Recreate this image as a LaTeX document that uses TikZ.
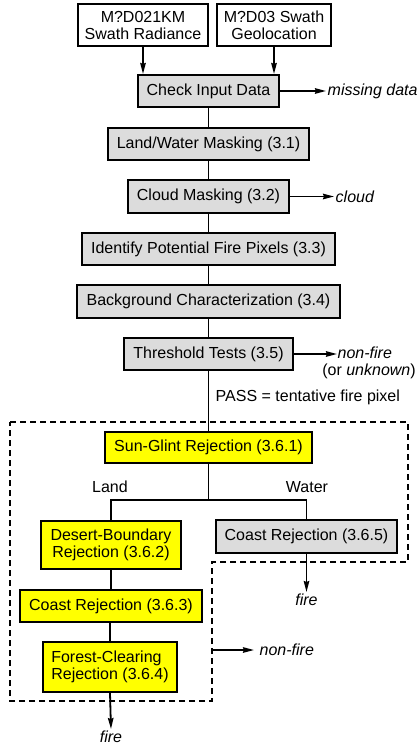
\documentclass[tikz,border=0pt]{standalone}
\usepackage{fontspec}
\setmainfont{Liberation Sans}
\usetikzlibrary{arrows.meta}
\definecolor{boxgray}{HTML}{DCDCDC}
\definecolor{boxyellow}{HTML}{FFFF00}
\begin{document}
\begin{tikzpicture}[x=1pt,y=-1pt,
  font=\fontsize{16}{17}\selectfont,
  box/.style={draw, line width=2pt, inner sep=0pt, align=center},
  wbox/.style={box, fill=white},
  gbox/.style={box, fill=boxgray},
  ybox/.style={box, fill=boxyellow},
  conn/.style={line width=1.8pt},
  arr/.style={conn, -{Stealth[length=11pt,width=5.5pt,inset=1pt]}},
  it/.style={font=\fontsize{16}{17}\selectfont\itshape, inner sep=1.5pt},
  lbl/.style={inner sep=1.5pt},
  dashline/.style={line width=1.4pt, dash pattern=on 6pt off 4pt}]
\useasboundingbox[fill=white] (0,0) rectangle (419,751);

% boxes
\node[wbox, minimum width=130, minimum height=42] (inA) at (143,25) {M?D021KM\\Swath Radiance};
\node[wbox, minimum width=114, minimum height=42] (inB) at (274,25) {M?D03 Swath\\Geolocation};
\node[gbox, minimum width=141, minimum height=32] (ci) at (208.5,91) {Check Input Data};
\node[gbox, minimum width=201, minimum height=32] (lw) at (208.5,144) {Land/Water Masking (3.1)};
\node[gbox, minimum width=161, minimum height=33] (cm) at (208.5,196.5) {Cloud Masking (3.2)};
\node[gbox, minimum width=253, minimum height=32] (ip) at (208.5,249) {Identify Potential Fire Pixels (3.3)};
\node[gbox, minimum width=263, minimum height=33] (bc) at (208.5,301.5) {Background Characterization (3.4)};
\node[gbox, minimum width=169, minimum height=32] (tt) at (208.5,354) {Threshold Tests (3.5)};
\node[ybox, minimum width=207, minimum height=31] (sg) at (208.5,447.5) {Sun-Glint Rejection (3.6.1)};
\node[ybox, minimum width=140, minimum height=48] (db) at (111,545) {Desert-Boundary\\Rejection (3.6.2)};
\node[gbox, minimum width=181, minimum height=33] (c5) at (306.5,536.5) {Coast Rejection (3.6.5)};
\node[ybox, minimum width=182, minimum height=32] (c3) at (111,606) {Coast Rejection (3.6.3)};
\node[ybox, minimum width=134, minimum height=50, align=left] (fc) at (110,667) {Forest-Clearing\\Rejection (3.6.4)};

% labels
\node[it, anchor=west] (md) at (326,91) {missing data};
\node[it, anchor=west] (cl) at (334,196.5) {cloud};
\node[it, anchor=west, inner sep=0.5pt] (nf1) at (337,353) {non-fire};
\node[lbl, inner sep=0pt] (nf2) at (369,371) {(or \textit{unknown})};
\node[lbl, anchor=west] (pass) at (214,397) {PASS = tentative fire pixel};
\node[lbl] (land) at (110,487) {Land};
\node[lbl] (water) at (307,487) {Water};
\node[it, anchor=north] (fire1) at (306.5,592) {fire};
\node[it, anchor=north] (fire2) at (111,729) {fire};
\node[it, anchor=west] (nf3) at (258,650) {non-fire};

% dashed region
\draw[dashline] (10,422) -- (408,422) -- (408,562) -- (212,562) -- (212,701) -- (10,701) -- cycle;
\coordinate (nfs) at (212,650);
\coordinate (br) at (208.5,500);

% connectors
\draw[arr] (inA.south) -- (inA.south |- ci.north);
\draw[arr] (inB.south) -- (inB.south |- ci.north);
\draw[arr] (ci.east) -- (md.west);
\draw[conn] (ci) -- (lw);
\draw[conn] (lw) -- (cm);
\draw[arr] (cm.east) -- (cl.west);
\draw[conn] (cm) -- (ip);
\draw[conn] (ip) -- (bc);
\draw[conn] (bc) -- (tt);
\draw[arr] (tt.east) -- (tt.east -| nf1.west);
\draw[conn] (tt) -- (sg);
\draw[conn] (sg.south) -- (br);
\draw[conn] (db.north) |- (br) -| (c5.north);
\draw[arr] (c5.south) -- (fire1.north);
\draw[conn] (db) -- (db |- c3.north);
\draw[conn] (c3.south -| fc.north) -- (fc.north);
\draw[arr] (fc.south) -- (fire2.north);
\draw[arr, shorten >=4pt] (nfs) -- (nf3.west);
\end{tikzpicture}
\end{document}
